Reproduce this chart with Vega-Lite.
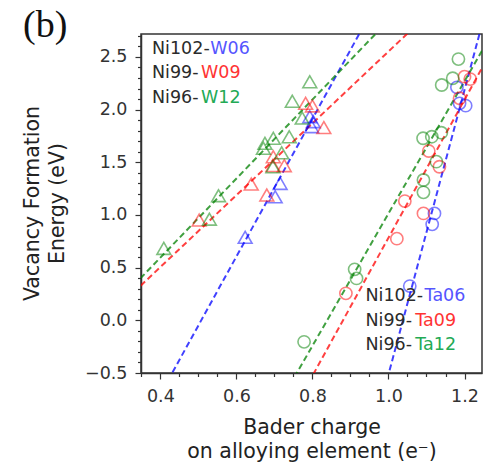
{
  "$schema": "https://vega.github.io/schema/vega-lite/v6.json",
  "width": 341,
  "height": 339,
  "autosize": {"type": "none"},
  "padding": {"left": 141, "top": 34, "right": 12, "bottom": 92},
  "background": "white",
  "config": {
    "font": "DejaVu Sans",
    "view": {"stroke": "#333333", "strokeWidth": 1.5},
    "axis": {
      "grid": false,
      "domainColor": "#333333",
      "domainWidth": 1.5,
      "tickColor": "#333333",
      "tickWidth": 1.2,
      "labelFontSize": 17.5,
      "labelColor": "#333333",
      "titleFontSize": 20.5,
      "titleFontWeight": "normal",
      "titleColor": "#222222",
      "labelOverlap": false,
      "labelFlush": false
    }
  },
  "title": {
    "text": "(b)",
    "font": "Liberation Serif",
    "fontSize": 38,
    "fontWeight": "normal",
    "anchor": "start",
    "frame": "group",
    "baseline": "alphabetic",
    "offset": 0,
    "dx": -118,
    "dy": 59,
    "color": "#111111"
  },
  "datasets": {
    "lines": [
      {"series": "W06", "conc": "06", "charge": 0.42, "energy": -0.572},
      {"series": "W06", "conc": "06", "charge": 0.94, "energy": 2.829},
      {"series": "W09", "conc": "09", "charge": 0.33, "energy": 0.267},
      {"series": "W09", "conc": "09", "charge": 1.08, "energy": 2.825},
      {"series": "W12", "conc": "12", "charge": 0.33, "energy": 0.333},
      {"series": "W12", "conc": "12", "charge": 1.0, "energy": 2.846},
      {"series": "Ta06", "conc": "06", "charge": 0.99, "energy": -0.649},
      {"series": "Ta06", "conc": "06", "charge": 1.25, "energy": 2.862},
      {"series": "Ta09", "conc": "09", "charge": 0.79, "energy": -0.592},
      {"series": "Ta09", "conc": "09", "charge": 1.26, "energy": 2.487},
      {"series": "Ta12", "conc": "12", "charge": 0.74, "energy": -0.619},
      {"series": "Ta12", "conc": "12", "charge": 1.26, "energy": 2.646}
    ],
    "points": [
      {"element": "W", "conc": "06", "charge": 0.793, "energy": 1.933},
      {"element": "W", "conc": "06", "charge": 0.802, "energy": 1.886},
      {"element": "W", "conc": "06", "charge": 0.798, "energy": 1.838},
      {"element": "W", "conc": "06", "charge": 0.715, "energy": 1.3},
      {"element": "W", "conc": "06", "charge": 0.702, "energy": 1.173},
      {"element": "W", "conc": "06", "charge": 0.623, "energy": 0.788},
      {"element": "W", "conc": "09", "charge": 0.782, "energy": 2.06},
      {"element": "W", "conc": "09", "charge": 0.8, "energy": 2.035},
      {"element": "W", "conc": "09", "charge": 0.83, "energy": 1.83},
      {"element": "W", "conc": "09", "charge": 0.697, "energy": 1.553},
      {"element": "W", "conc": "09", "charge": 0.726, "energy": 1.468},
      {"element": "W", "conc": "09", "charge": 0.696, "energy": 1.47},
      {"element": "W", "conc": "09", "charge": 0.639, "energy": 1.294},
      {"element": "W", "conc": "09", "charge": 0.68, "energy": 1.19},
      {"element": "W", "conc": "09", "charge": 0.502, "energy": 0.952},
      {"element": "W", "conc": "12", "charge": 0.793, "energy": 2.265},
      {"element": "W", "conc": "12", "charge": 0.747, "energy": 2.08},
      {"element": "W", "conc": "12", "charge": 0.773, "energy": 1.92},
      {"element": "W", "conc": "12", "charge": 0.739, "energy": 1.743},
      {"element": "W", "conc": "12", "charge": 0.697, "energy": 1.728},
      {"element": "W", "conc": "12", "charge": 0.675, "energy": 1.68},
      {"element": "W", "conc": "12", "charge": 0.671, "energy": 1.633},
      {"element": "W", "conc": "12", "charge": 0.719, "energy": 1.59},
      {"element": "W", "conc": "12", "charge": 0.696, "energy": 1.458},
      {"element": "W", "conc": "12", "charge": 0.553, "energy": 1.183},
      {"element": "W", "conc": "12", "charge": 0.529, "energy": 0.96},
      {"element": "W", "conc": "12", "charge": 0.409, "energy": 0.683},
      {"element": "Ta", "conc": "06", "charge": 1.18, "energy": 2.212},
      {"element": "Ta", "conc": "06", "charge": 1.187, "energy": 2.06},
      {"element": "Ta", "conc": "06", "charge": 1.203, "energy": 2.038},
      {"element": "Ta", "conc": "06", "charge": 1.121, "energy": 1.015},
      {"element": "Ta", "conc": "06", "charge": 1.115, "energy": 0.911},
      {"element": "Ta", "conc": "06", "charge": 1.056, "energy": 0.325},
      {"element": "Ta", "conc": "09", "charge": 1.2, "energy": 2.313},
      {"element": "Ta", "conc": "09", "charge": 1.215, "energy": 2.29},
      {"element": "Ta", "conc": "09", "charge": 1.187, "energy": 2.108},
      {"element": "Ta", "conc": "09", "charge": 1.106, "energy": 1.607},
      {"element": "Ta", "conc": "09", "charge": 1.134, "energy": 1.458},
      {"element": "Ta", "conc": "09", "charge": 1.043, "energy": 1.132},
      {"element": "Ta", "conc": "09", "charge": 1.092, "energy": 1.015},
      {"element": "Ta", "conc": "09", "charge": 1.022, "energy": 0.775},
      {"element": "Ta", "conc": "09", "charge": 0.888, "energy": 0.256},
      {"element": "Ta", "conc": "12", "charge": 1.184, "energy": 2.48},
      {"element": "Ta", "conc": "12", "charge": 1.169, "energy": 2.298},
      {"element": "Ta", "conc": "12", "charge": 1.14, "energy": 2.234},
      {"element": "Ta", "conc": "12", "charge": 1.091, "energy": 1.728},
      {"element": "Ta", "conc": "12", "charge": 1.114, "energy": 1.743},
      {"element": "Ta", "conc": "12", "charge": 1.139, "energy": 1.781},
      {"element": "Ta", "conc": "12", "charge": 1.126, "energy": 1.506},
      {"element": "Ta", "conc": "12", "charge": 1.092, "energy": 1.332},
      {"element": "Ta", "conc": "12", "charge": 1.092, "energy": 1.215},
      {"element": "Ta", "conc": "12", "charge": 0.911, "energy": 0.484},
      {"element": "Ta", "conc": "12", "charge": 0.916, "energy": 0.398},
      {"element": "Ta", "conc": "12", "charge": 0.778, "energy": -0.204}
    ],
    "labels": [
      {"key": "base", "text": "Ni102-", "charge": 0.378, "energy": 2.573},
      {"key": "06", "text": "W06", "charge": 0.5312, "energy": 2.573},
      {"key": "base", "text": "Ni99-", "charge": 0.378, "energy": 2.345},
      {"key": "09", "text": "W09", "charge": 0.5067, "energy": 2.345},
      {"key": "base", "text": "Ni96-", "charge": 0.378, "energy": 2.108},
      {"key": "12", "text": "W12", "charge": 0.5067, "energy": 2.108},
      {"key": "base", "text": "Ni102-", "charge": 0.9395, "energy": 0.233},
      {"key": "06", "text": "Ta06", "charge": 1.095, "energy": 0.233},
      {"key": "base", "text": "Ni99-", "charge": 0.9395, "energy": -0.004},
      {"key": "09", "text": "Ta09", "charge": 1.0706, "energy": -0.004},
      {"key": "base", "text": "Ni96-", "charge": 0.9395, "energy": -0.235},
      {"key": "12", "text": "Ta12", "charge": 1.0706, "energy": -0.235}
    ]
  },
  "resolve": {
    "scale": {"x": "independent", "y": "independent", "color": "independent"},
    "axis": {"x": "independent", "y": "independent"}
  },
  "layer": [
    {
      "resolve": {"scale": {"color": "independent"}},
      "layer": [
        {
          "data": {"name": "lines"},
          "mark": {"type": "line", "strokeDash": [6, 3.5], "strokeWidth": 2, "opacity": 0.75, "clip": true},
          "encoding": {
            "x": {
              "field": "charge",
              "type": "quantitative",
              "scale": {"domain": [0.349, 1.246], "nice": false, "zero": false},
              "axis": {
                "orient": "bottom",
                "title": ["Bader charge", "on alloying element (e⁻)"],
                "values": [0.4, 0.6, 0.8, 1.0, 1.2],
                "format": ".1f",
                "tickSize": 6,
                "labelOverlap": false,
                "labelFlush": false,
                "labelFontSize": 17.5,
                "labelPadding": 8,
                "titleBaseline": "alphabetic",
                "titleY": 60,
                "titleLineHeight": 24.5
              }
            },
            "y": {
              "field": "energy",
              "type": "quantitative",
              "scale": {"domain": [-0.5, 2.718], "nice": false, "zero": false},
              "axis": {
                "orient": "left",
                "title": ["Vacancy Formation", "Energy (eV)"],
                "values": [-0.5, 0, 0.5, 1.0, 1.5, 2.0, 2.5],
                "format": ".1f",
                "tickSize": 6,
                "labelOverlap": false,
                "labelFlush": false,
                "labelFontSize": 17.5,
                "labelPadding": 8,
                "titleX": -103,
                "titleY": 169,
                "titleAngle": -90,
                "titleAlign": "center",
                "titleBaseline": "alphabetic",
                "titleLineHeight": 25.5
              }
            },
            "color": {"field": "conc", "type": "nominal", "scale": {"domain": ["06", "09", "12"], "range": ["#0000ff", "#ff0000", "#008000"]}, "legend": null},
            "detail": {"field": "series"}
          }
        },
        {
          "data": {"name": "points"},
          "transform": [{"filter": "datum.element === 'W'"}],
          "mark": {"type": "point", "shape": "triangle-up", "size": 190, "strokeWidth": 1.6, "filled": false, "opacity": 0.5},
          "encoding": {
            "x": {"field": "charge", "type": "quantitative"},
            "y": {"field": "energy", "type": "quantitative"},
            "color": {"field": "conc", "type": "nominal", "scale": {"domain": ["06", "09", "12"], "range": ["#0000ff", "#ff0000", "#008000"]}, "legend": null}
          }
        },
        {
          "data": {"name": "points"},
          "transform": [{"filter": "datum.element === 'Ta'"}],
          "mark": {"type": "point", "shape": "circle", "size": 150, "strokeWidth": 1.6, "filled": false, "opacity": 0.5},
          "encoding": {
            "x": {"field": "charge", "type": "quantitative"},
            "y": {"field": "energy", "type": "quantitative"},
            "color": {"field": "conc", "type": "nominal", "scale": {"domain": ["06", "09", "12"], "range": ["#0000ff", "#ff0000", "#008000"]}, "legend": null}
          }
        },
        {
          "data": {"name": "labels"},
          "mark": {"type": "text", "align": "left", "baseline": "middle", "fontSize": 17.5},
          "encoding": {
            "x": {"field": "charge", "type": "quantitative"},
            "y": {"field": "energy", "type": "quantitative"},
            "text": {"field": "text"},
            "color": {"field": "key", "type": "nominal", "scale": {"domain": ["base", "06", "09", "12"], "range": ["#2b2b2b", "#5555ff", "#ff3333", "#22aa55"]}, "legend": null}
          }
        }
      ]
    },
    {
      "data": {"name": "lines"},
      "mark": {"type": "point", "opacity": 0},
      "encoding": {
        "x": {
          "field": "charge",
          "type": "quantitative",
          "scale": {"domain": [0.349, 1.246], "nice": false, "zero": false},
          "axis": {
            "orient": "bottom",
            "title": null,
            "values": [0.35, 0.45, 0.5, 0.55, 0.65, 0.7, 0.75, 0.85, 0.9, 0.95, 1.05, 1.1, 1.15],
            "labels": false,
            "domain": false,
            "tickSize": 3.5
          }
        },
        "y": {
          "field": "energy",
          "type": "quantitative",
          "scale": {"domain": [-0.5, 2.718], "nice": false, "zero": false},
          "axis": {
            "orient": "left",
            "title": null,
            "values": [-0.4, -0.3, -0.2, -0.1, 0.1, 0.2, 0.3, 0.4, 0.6, 0.7, 0.8, 0.9, 1.1, 1.2, 1.3, 1.4, 1.6, 1.7, 1.8, 1.9, 2.1, 2.2, 2.3, 2.4, 2.6, 2.7],
            "labels": false,
            "domain": false,
            "tickSize": 3.5
          }
        }
      }
    }
  ]
}
